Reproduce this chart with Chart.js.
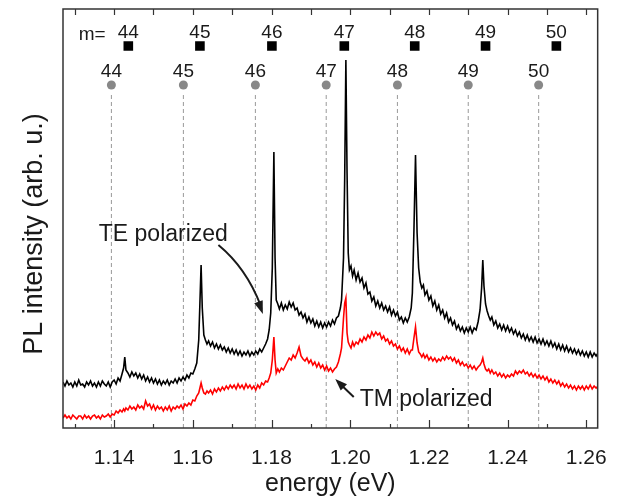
<!DOCTYPE html>
<html>
<head>
<meta charset="utf-8">
<script src="https://cdn.jsdelivr.net/npm/chart.js@4.4.1/dist/chart.umd.min.js"></script>
<style>
  html, body { margin: 0; padding: 0; background: #fff; }
  #wrap { width: 617px; height: 501px; }
</style>
</head>
<body>
<div id="wrap"><canvas id="plChart" width="617" height="501"></canvas></div>
<script>
// sampled photon energies (eV)
const energy = [
  1.1270, 1.1275, 1.1280, 1.1285, 1.1290, 1.1295, 1.1300, 1.1305, 1.1310, 1.1315,
  1.1320, 1.1325, 1.1330, 1.1335, 1.1340, 1.1345, 1.1350, 1.1355, 1.1360, 1.1365,
  1.1370, 1.1375, 1.1380, 1.1385, 1.1390, 1.1395, 1.1400, 1.1405, 1.1410, 1.1415,
  1.1420, 1.1424, 1.1427, 1.1430, 1.1435, 1.1440, 1.1445, 1.1450, 1.1455, 1.1460,
  1.1465, 1.1470, 1.1475, 1.1480, 1.1485, 1.1490, 1.1495, 1.1500, 1.1505, 1.1510,
  1.1515, 1.1520, 1.1525, 1.1530, 1.1535, 1.1540, 1.1545, 1.1550, 1.1555, 1.1560,
  1.1565, 1.1570, 1.1575, 1.1580, 1.1585, 1.1590, 1.1595, 1.1600, 1.1605, 1.1610,
  1.1615, 1.1618, 1.1621, 1.1624, 1.1628, 1.1632, 1.1636, 1.1640, 1.1645, 1.1650,
  1.1655, 1.1660, 1.1665, 1.1670, 1.1675, 1.1680, 1.1685, 1.1690, 1.1695, 1.1700,
  1.1705, 1.1710, 1.1715, 1.1720, 1.1725, 1.1730, 1.1735, 1.1740, 1.1745, 1.1750,
  1.1755, 1.1760, 1.1765, 1.1770, 1.1775, 1.1780, 1.1785, 1.1790, 1.1794,
  1.1798, 1.1802, 1.1806, 1.1809, 1.1812, 1.1816, 1.1820, 1.1825, 1.1830, 1.1835,
  1.1840, 1.1845, 1.1850, 1.1855, 1.1860, 1.1865, 1.1870, 1.1875, 1.1880, 1.1885,
  1.1890, 1.1895, 1.1900, 1.1905, 1.1910, 1.1915, 1.1920, 1.1925, 1.1930, 1.1935,
  1.1940, 1.1945, 1.1950, 1.1955, 1.1960, 1.1965, 1.1970, 1.1975,
  1.1978, 1.1983, 1.1986, 1.1989, 1.1992, 1.1995, 1.1998, 1.2002, 1.2006, 1.2010,
  1.2015, 1.2020, 1.2025, 1.2030, 1.2035, 1.2040, 1.2045, 1.2050, 1.2055, 1.2060,
  1.2065, 1.2070, 1.2075, 1.2080, 1.2085, 1.2090, 1.2095, 1.2100, 1.2105, 1.2110,
  1.2115, 1.2120, 1.2125, 1.2130, 1.2135, 1.2140, 1.2145, 1.2150, 1.2155,
  1.2158, 1.2162, 1.2166, 1.2170, 1.2174, 1.2178, 1.2182, 1.2186, 1.2190, 1.2195,
  1.2200, 1.2205, 1.2210, 1.2215, 1.2220, 1.2225, 1.2230, 1.2235, 1.2240, 1.2245,
  1.2250, 1.2255, 1.2260, 1.2265, 1.2270, 1.2275, 1.2280, 1.2285, 1.2290, 1.2295,
  1.2300, 1.2305, 1.2310, 1.2315, 1.2320, 1.2325, 1.2330,
  1.2334, 1.2337, 1.2340, 1.2344, 1.2348, 1.2352, 1.2356, 1.2360, 1.2365, 1.2370,
  1.2375, 1.2380, 1.2385, 1.2390, 1.2395, 1.2400, 1.2405, 1.2410, 1.2415, 1.2420,
  1.2425, 1.2430, 1.2435, 1.2440, 1.2445, 1.2450, 1.2455, 1.2460, 1.2465, 1.2470,
  1.2475, 1.2480, 1.2485, 1.2490, 1.2495, 1.2500, 1.2505, 1.2510, 1.2515, 1.2520,
  1.2525, 1.2530, 1.2535, 1.2540, 1.2545, 1.2550, 1.2555, 1.2560, 1.2565, 1.2570,
  1.2575, 1.2580, 1.2585, 1.2590, 1.2595, 1.2600, 1.2605, 1.2610, 1.2615, 1.2620,
  1.2625, 1.2630
];

// TE polarized PL intensity (arb. u.)
const te = [
  46, 42, 47, 43, 45, 41, 46, 42, 48, 43,
  44, 41, 46, 43, 47, 42, 45, 41, 46, 42,
  47, 44, 42, 46, 41, 46, 48, 44, 50, 47,
  54, 60, 71, 58, 55, 51, 56, 52, 55, 50,
  54, 49, 53, 47, 51, 46, 50, 45, 49, 44,
  48, 43, 47, 44, 48, 43, 47, 45, 49, 45,
  50, 47, 51, 48, 53, 50, 55, 54, 59, 65,
  88, 125, 163, 120, 93, 88, 84, 87, 82, 86,
  80, 84, 79, 83, 78, 81, 76, 80, 75, 79,
  74, 78, 73, 77, 72, 76, 73, 77, 72, 76,
  73, 77, 74, 79, 76, 80, 84, 89, 98,
  115, 160, 276, 170, 128, 124, 119, 125, 118, 123,
  119, 126, 121, 125, 118, 120, 113, 116, 110, 114,
  106, 111, 105, 109, 102, 107, 101, 106, 100, 105,
  101, 106, 102, 108, 104, 110, 112, 120,
  128, 170, 250, 368, 255, 175, 158, 162, 152, 158,
  148, 155, 146, 150, 140, 145, 134, 136, 127, 131,
  122, 127, 120, 125, 118, 122, 116, 121, 113, 118,
  112, 116, 108, 111, 105, 110, 106, 111, 120,
  135, 198, 273, 195, 160, 146, 140, 143, 133, 137,
  128, 132, 122, 127, 118, 123, 114, 118, 110, 115,
  106, 110, 103, 107, 99, 103, 97, 101, 95, 100,
  96, 101, 95, 100, 98, 106, 118,
  140, 168, 142, 124, 117, 112, 108, 111, 103, 107,
  100, 104, 98, 103, 97, 102, 96, 100, 94, 98,
  92, 96, 90, 94, 88, 93, 87, 91, 86, 91,
  85, 89, 84, 89, 83, 87, 82, 87, 81, 85,
  79, 84, 78, 83, 77, 82, 76, 80, 75, 79,
  74, 78, 73, 77, 72, 76, 71, 76, 71, 75,
  72, 75
];

// TM polarized PL intensity (arb. u.)
const tm = [
  10, 13, 10, 12, 9, 13, 11, 9, 12, 12,
  9, 13, 10, 12, 9, 12, 13, 10, 12, 9,
  13, 11, 12, 14, 11, 14, 13, 17, 15, 18,
  16, 19, 17, 20, 18, 22, 19, 21, 18, 23,
  20, 22, 19, 27, 22, 24, 19, 23, 18, 22,
  19, 21, 17, 21, 18, 22, 17, 21, 19, 22,
  20, 23, 19, 24, 22, 25, 23, 28, 27, 32,
  35, 40, 45, 40, 35, 34, 37, 35, 38, 34,
  39, 36, 40, 37, 41, 38, 42, 39, 43, 40,
  43, 39, 44, 40, 43, 39, 44, 40, 43, 39,
  42, 38, 43, 40, 45, 43, 47, 46, 50,
  55, 68, 91, 68, 55, 59, 56, 60, 58, 62,
  66, 70, 68, 73, 70, 75, 81, 72, 69, 67,
  70, 65, 68, 63, 66, 61, 65, 60, 63, 58,
  62, 57, 60, 56, 59, 61, 66, 74,
  80, 110, 125, 130, 95, 86, 83, 80, 86, 82,
  86, 84, 89, 86, 91, 88, 93, 90, 96, 92,
  96, 93, 95, 89, 92, 87, 89, 84, 87, 82,
  84, 79, 82, 77, 80, 75, 79, 74, 78,
  78, 90, 101, 85, 76, 74, 71, 74, 70, 73,
  68, 71, 67, 70, 66, 69, 67, 71, 68, 72,
  69, 71, 67, 70, 65, 68, 63, 66, 62, 64,
  60, 63, 59, 62, 58, 61, 63,
  66, 70, 64, 59, 57, 59, 55, 58, 54, 56,
  52, 55, 51, 54, 50, 53, 51, 54, 52, 57,
  54, 57, 55, 58, 54, 56, 52, 55, 51, 54,
  50, 53, 49, 52, 48, 51, 46, 49, 45, 48,
  44, 47, 42, 45, 41, 44, 40, 43, 39, 42,
  38, 42, 39, 42, 38, 42, 39, 43, 39, 42,
  40, 42
];

// cavity mode energies (eV) and their mode numbers
const modeNumbers = [44, 45, 46, 47, 48, 49, 50];
const teModes = [1.1436, 1.1618, 1.1801, 1.1985, 1.2164, 1.2344, 1.2524];
const tmModes = [1.1393, 1.1576, 1.1759, 1.1939, 1.2120, 1.2300, 1.2479];

// axis ticks
const xTicks = [1.14, 1.16, 1.18, 1.20, 1.22, 1.24, 1.26];
const xMinorTicks = [1.13, 1.14, 1.15, 1.16, 1.17, 1.18, 1.19, 1.20, 1.21, 1.22, 1.23, 1.24, 1.25, 1.26];

// marker rows (in intensity units of the plot)
const squareRow = 382;
const circleRow = 343;
const dashTop = 333;

const spectrum = ys => energy.map((e, i) => ({ x: e, y: ys[i] }));

const dashData = [];
tmModes.forEach(e => {
    dashData.push({ x: e, y: 0 }, { x: e, y: dashTop }, { x: e, y: null });
});

const FONT = '"Liberation Sans", Arial, Helvetica, sans-serif';
const INK = '#1a1a1a';

function arrowHead(ctx, fx, fy, tx, ty, len, half) {
    const a = Math.atan2(ty - fy, tx - fx);
    ctx.beginPath();
    ctx.moveTo(tx, ty);
    ctx.lineTo(tx - len * Math.cos(a) + half * Math.sin(a), ty - len * Math.sin(a) - half * Math.cos(a));
    ctx.lineTo(tx - len * Math.cos(a) - half * Math.sin(a), ty - len * Math.sin(a) + half * Math.cos(a));
    ctx.closePath();
    ctx.fill();
}

// frame, inward ticks, labels and arrows
const decorations = {
    id: 'decorations',
    afterDatasetsDraw(chart) {
        const { ctx, chartArea: a, scales: { x, y } } = chart;
        ctx.save();
        ctx.strokeStyle = '#333';
        ctx.lineWidth = 1.5;
        ctx.strokeRect(a.left, a.top, a.right - a.left, a.bottom - a.top);

        ctx.lineWidth = 1.2;
        ctx.beginPath();
        xMinorTicks.forEach(v => {
            const px = Math.round(x.getPixelForValue(v)) + 0.5;
            const major = xTicks.some(t => Math.abs(t - v) < 1e-6);
            ctx.moveTo(px, a.bottom);
            ctx.lineTo(px, a.bottom - (major ? 8 : 4));
            ctx.moveTo(px, a.top);
            ctx.lineTo(px, a.top + 6);
        });
        ctx.stroke();

        ctx.fillStyle = INK;
        ctx.textAlign = 'center';
        ctx.textBaseline = 'middle';
        ctx.font = '19px ' + FONT;
        ctx.fillText('m=', x.getPixelForValue(1.1344), y.getPixelForValue(393));
        modeNumbers.forEach((m, i) => {
            ctx.fillText(String(m), x.getPixelForValue(teModes[i]), y.getPixelForValue(395));
            ctx.fillText(String(m), x.getPixelForValue(tmModes[i]), y.getPixelForValue(356));
        });

        ctx.font = '23px ' + FONT;
        ctx.fillText('TE polarized', x.getPixelForValue(1.1525), y.getPixelForValue(193));
        ctx.textAlign = 'left';
        ctx.fillText('TM polarized', x.getPixelForValue(1.2024), y.getPixelForValue(28));

        // TE arrow
        ctx.strokeStyle = INK;
        ctx.lineWidth = 2;
        const sx = x.getPixelForValue(1.1665), sy = y.getPixelForValue(183);
        const cx = x.getPixelForValue(1.1736), cy = y.getPixelForValue(160);
        const ex = x.getPixelForValue(1.1778), ey = y.getPixelForValue(114);
        ctx.beginPath();
        ctx.moveTo(sx, sy);
        ctx.quadraticCurveTo(cx, cy, ex - 2, ey - 8);
        ctx.stroke();
        arrowHead(ctx, cx, cy, ex, ey, 13, 4.5);

        // TM arrow
        const tx0 = x.getPixelForValue(1.2009), ty0 = y.getPixelForValue(31);
        const tx1 = x.getPixelForValue(1.1962), ty1 = y.getPixelForValue(49);
        ctx.beginPath();
        ctx.moveTo(tx0, ty0);
        ctx.lineTo(tx1 + 6, ty1 + 6);
        ctx.stroke();
        arrowHead(ctx, tx0, ty0, tx1, ty1, 12, 4.5);

        // y axis title
        ctx.font = '27px ' + FONT;
        ctx.textAlign = 'center';
        ctx.translate(35, 234);
        ctx.rotate(-Math.PI / 2);
        ctx.fillText('PL intensity (arb. u.)', 0, 0);
        ctx.restore();
    }
};

new Chart(document.getElementById('plChart'), {
    type: 'scatter',
    data: {
        datasets: [
            {
                label: 'TE polarized',
                data: spectrum(te),
                showLine: true,
                borderColor: '#000',
                borderWidth: 1.6,
                pointRadius: 0
            },
            {
                label: 'TM polarized',
                data: spectrum(tm),
                showLine: true,
                borderColor: '#ff0000',
                borderWidth: 1.6,
                pointRadius: 0
            },
            {
                label: 'TE modes',
                data: teModes.map(e => ({ x: e, y: squareRow })),
                pointStyle: 'rect',
                pointRadius: 6.8,
                backgroundColor: '#000',
                borderWidth: 0
            },
            {
                label: 'TM modes',
                data: tmModes.map(e => ({ x: e, y: circleRow })),
                pointStyle: 'circle',
                pointRadius: 4.5,
                backgroundColor: '#888',
                borderWidth: 0
            },
            {
                label: 'TM mode lines',
                data: dashData,
                showLine: true,
                spanGaps: false,
                borderColor: '#999',
                borderWidth: 1,
                borderDash: [4, 3],
                pointRadius: 0
            }
        ]
    },
    options: {
        responsive: false,
        animation: false,
        layout: { padding: { left: 63, top: 9, right: 14, bottom: 0 } },
        plugins: {
            legend: { display: false },
            tooltip: { enabled: false }
        },
        scales: {
            x: {
                type: 'linear',
                min: 1.1270,
                max: 1.2629,
                grid: { display: false },
                border: { display: false },
                afterBuildTicks: axis => { axis.ticks = xTicks.map(v => ({ value: v })); },
                afterFit: axis => { axis.height = 73; },
                ticks: {
                    padding: 10,
                    color: INK,
                    font: { family: FONT, size: 21 },
                    callback: v => v.toFixed(2)
                },
                title: {
                    display: true,
                    text: 'energy (eV)',
                    color: INK,
                    font: { family: FONT, size: 25 },
                    padding: { top: 0, bottom: 2 }
                }
            },
            y: {
                display: false,
                min: 0,
                max: 419
            }
        }
    },
    plugins: [decorations]
});
</script>
</body>
</html>
